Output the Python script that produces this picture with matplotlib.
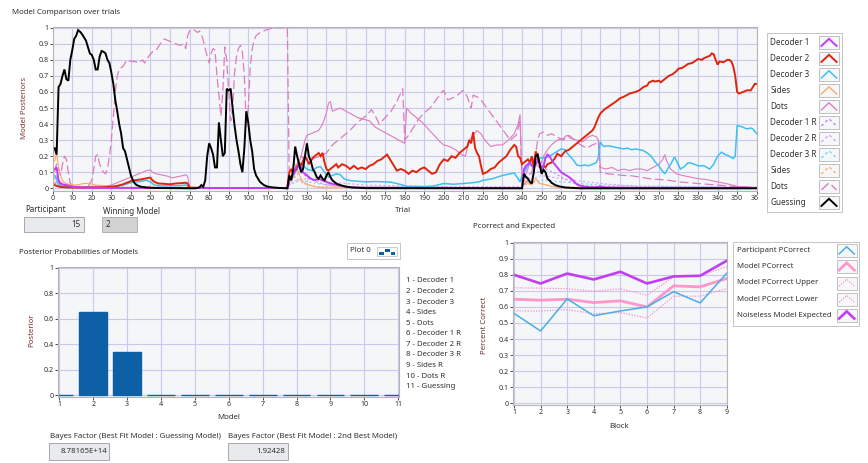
import matplotlib.pyplot as plt
from matplotlib.patches import Rectangle
from matplotlib.transforms import Bbox, TransformedBbox

plt.rcParams['font.family'] = ['Noto Sans', 'DejaVu Sans']

W, H = 868, 463

# ---------------- posterior traces over trials ----------------
guess_t = [1, 2, 3, 4, 5, 6, 7, 8, 9, 10, 11, 12, 13, 14, 15, 16, 17, 18, 19, 20,
           21, 22, 23, 24, 25, 26, 27, 28, 29, 30, 31, 32, 33, 34, 35, 36, 37, 38, 39, 40,
           41, 42, 43, 45, 48, 52, 60, 70, 73, 75, 76, 77, 78, 79, 80, 81, 82, 83, 84, 85,
           86, 87, 88, 89, 90, 91, 92, 93, 94, 95, 96, 97, 98, 99, 100, 101, 102, 103, 104,
           106, 108, 110, 113, 116, 120,
           121, 122, 123, 124, 125, 126, 127, 128, 129, 130, 131, 132, 133, 134, 135, 136,
           137, 138, 139, 140, 141, 142, 143, 145, 147, 150, 153, 160, 240,
           241, 242, 243, 244, 245, 246, 247, 248, 249, 250, 251, 252, 253, 254, 255, 257,
           259, 262, 266, 270, 360]
guess_v = [.25, .21, .63, .65, .70, .74, .68, .67, .80, .86, .93, .95, .985, .975, .96, .94, .92, .88, .84, .83,
           .80, .74, .74, .82, .855, .85, .84, .80, .78, .72, .65, .55, .48, .40, .34, .25, .23, .18, .13, .08,
           .05, .03, .02, .01, .005, .002, .001, 0, 0, .005, .02, .01, .05, .20, .28, .25, .21, .13, .13, .41,
           .30, .20, .22, .62, .61, .62, .50, .39, .30, .23, .15, .10, .25, .48, .41, .30, .23, .12, .08,
           .04, .02, .01, .005, .002, 0,
           .08, .05, .12, .26, .20, .15, .10, .12, .20, .28, .20, .17, .12, .10, .07, .06,
           .08, .06, .05, .08, .10, .07, .05, .03, .02, .01, .005, .001, 0,
           .09, .07, .06, .04, .03, .10, .20, .21, .15, .09, .115, .10, .06, .05, .035, .02,
           .012, .005, .002, 0, 0]

dec2_t = [1, 2, 4, 8, 15, 25, 30, 33, 36, 38, 40, 42, 45, 47, 49, 50, 51, 52, 54, 57,
          60, 63, 66, 68, 69, 70, 80, 100, 120,
          121, 122, 123, 124, 125, 126, 127, 128, 129, 130, 131, 132, 133, 134, 135, 136,
          137, 138, 139, 140, 141, 143, 145, 146, 148, 150, 152, 154, 156, 158, 160, 162,
          164, 166, 168, 170, 171, 172, 174, 176, 178, 180, 182, 184, 186, 188, 190, 192,
          194, 196, 198, 200, 202, 204, 206, 208, 210, 212, 213, 214, 215, 216, 217, 218,
          219, 220, 222, 224, 226, 228, 230, 232, 234, 236, 237, 238, 239, 240,
          241, 242, 243, 244, 245, 246, 247, 248, 249, 250, 251, 252, 253, 255, 257, 258,
          260, 262, 264, 266, 268, 270, 272, 274, 276, 277, 278, 279, 280, 282, 285, 288,
          290, 292, 295, 298, 300, 302, 304, 305, 307, 308, 310, 311, 313, 315, 317, 319,
          320, 322, 325, 327, 330, 332, 333, 335, 336, 337, 338, 339, 340, 341, 343, 345,
          346, 347, 348, 349, 350, 351, 353, 355, 357, 359, 360]
dec2_v = [.02, .015, .008, .005, .004, .006, .01, .015, .025, .035, .045, .05, .055, .06, .065, .066, .05, .04, .03, .028,
          .025, .03, .032, .035, .03, .004, .002, .002, .002,
          .10, .12, .09, .11, .13, .16, .14, .17, .20, .18, .15, .17, .19, .20, .21, .22,
          .20, .22, .16, .12, .11, .13, .15, .13, .15, .14, .12, .14, .12, .13, .12, .14,
          .15, .17, .18, .20, .21, .19, .15, .11, .12, .11, .09, .11, .10, .12, .13, .11,
          .09, .10, .15, .18, .17, .20, .19, .22, .24, .26, .30, .28, .35, .25, .22, .20,
          .14, .09, .10, .12, .13, .16, .18, .20, .24, .27, .26, .20, .19, .15,
          .16, .17, .18, .16, .20, .13, .23, .20, .15, .12, .14, .13, .15, .16, .19, .215,
          .20, .23, .24, .26, .28, .30, .32, .34, .36, .38, .41, .44, .465, .49, .515, .54,
          .56, .57, .59, .60, .61, .63, .64, .66, .67, .665, .67, .66, .68, .70, .71, .73,
          .745, .75, .775, .78, .805, .80, .81, .82, .825, .84, .835, .80, .77, .79, .785, .80,
          .80, .79, .76, .70, .60, .59, .60, .61, .61, .65, .65]

dec3_t = [1, 2, 3, 5, 10, 20, 30, 33, 36, 40, 43, 46, 48, 50, 52, 55, 60, 65, 68, 69, 70, 120,
          121, 122, 123, 124, 125, 126, 127, 128, 129, 130, 131, 133, 135, 137, 139, 141,
          143, 145, 147, 149, 151, 155, 160, 165, 170, 173, 176, 179, 181, 185, 190, 195,
          200, 205, 210, 215, 218, 220, 225, 230, 234, 236, 238, 239,
          240, 241, 243, 244, 246, 248, 250, 252, 254, 256, 258, 260, 262, 263, 264, 266,
          268, 270, 272, 274, 276, 278, 279, 280, 281, 282, 284, 286, 288, 290, 292, 294,
          296, 298, 300, 302, 304, 306, 308, 310, 311, 313, 314, 316, 318, 319, 321, 323,
          325, 327, 330, 333, 336, 338, 340, 342, 344, 346, 348, 349, 350, 352, 355, 357,
          358, 360]
dec3_v = [.08, .06, .02, .01, .005, .004, .006, .012, .02, .035, .04, .045, .05, .04, .02, .015, .015, .016, .02, .015, .002, .002,
          .05, .06, .08, .10, .12, .14, .155, .15, .13, .12, .115, .11, .13, .135, .10, .07,
          .08, .09, .085, .06, .05, .045, .04, .042, .04, .038, .03, .02, .012, .012, .01, .015,
          .03, .025, .03, .035, .04, .05, .06, .08, .09, .095, .06, .04,
          .08, .10, .14, .16, .17, .18, .19, .19, .20, .215, .23, .245, .24, .22, .205, .18,
          .145, .14, .145, .14, .15, .16, .19, .29, .27, .26, .265, .26, .255, .25, .245, .25,
          .24, .245, .24, .235, .22, .20, .165, .14, .12, .09, .11, .15, .195, .17, .12, .135,
          .16, .155, .14, .14, .12, .15, .20, .225, .21, .20, .185, .20, .39, .385, .37, .375,
          .37, .34]

dec1_t = [1, 2, 3, 4, 5, 7, 10, 15, 20, 30, 120,
          121, 122, 123, 124, 125, 126, 127, 128, 129, 130, 131, 132, 134, 136, 138, 140,
          142, 144, 146, 148, 150, 153, 158, 240,
          241, 242, 243, 244, 245, 246, 247, 248, 249, 250, 251, 252, 253, 254, 255, 256,
          258, 260, 262, 264, 266, 268, 270, 273, 278, 280, 282, 290, 300, 360]
dec1_v = [.12, .13, .05, .03, .025, .02, .01, .005, .003, .002, .002,
          .05, .07, .09, .12, .14, .145, .13, .10, .09, .08, .07, .06, .05, .06, .05, .04,
          .03, .025, .02, .015, .01, .006, .003, .002,
          .12, .14, .15, .16, .14, .13, .15, .17, .16, .12, .14, .19, .21, .20, .18, .16,
          .13, .10, .085, .07, .05, .025, .015, .008, .006, .012, .006, .004, .003, .003]

sides_t = [1, 2, 3, 4, 5, 6, 8, 10, 13, 16, 19, 22, 25, 28, 32, 36, 40, 120,
           121, 122, 123, 124, 125, 126, 127, 128, 130, 133, 136, 140, 240,
           241, 242, 243, 244, 245, 246, 247, 248, 249, 251, 253, 255, 258, 262, 360]
sides_v = [.17, .22, .13, .08, .05, .035, .025, .02, .022, .03, .03, .02, .018, .012, .008, .004, .002, .001,
           .10, .12, .14, .15, .12, .09, .06, .04, .025, .012, .006, .003, .001,
           .05, .04, .03, .025, .02, .04, .06, .045, .03, .025, .02, .012, .006, .003, .001]

dots_t = [1, 2, 3, 5, 8, 12, 16, 20, 25, 28, 30, 32, 34, 36, 38, 40, 42, 44, 46, 48,
          50, 51, 53, 55, 57, 59, 61, 63, 65, 67, 68, 69, 70, 120,
          121, 123, 125, 127, 129, 130, 132, 134, 136, 138, 140, 141, 142, 143, 145, 147,
          150, 153, 156, 159, 162, 165, 168, 171, 174, 177, 180, 181, 183, 186, 189, 192,
          195, 198, 200, 203, 206, 209, 211, 213, 215, 217, 219, 221, 224, 227, 230, 233,
          236, 238, 239, 240,
          241, 243, 245, 247, 249, 251, 253, 255, 258, 261, 263, 265, 268, 271, 274, 276,
          278, 279, 280, 283, 286, 289, 292, 295, 298, 301, 304, 307, 310, 312, 313, 314,
          316, 319, 322, 326, 330, 334, 338, 342, 346, 350, 355, 360]
dots_v = [.03, .04, .03, .02, .01, .008, .01, .012, .012, .015, .02, .03, .04, .05, .06, .07, .08, .09, .10, .11,
          .115, .10, .09, .085, .08, .075, .065, .07, .075, .08, .085, .075, .005, .001,
          .04, .08, .12, .20, .30, .33, .34, .35, .36, .40, .47, .53, .54, .48, .49, .50,
          .48, .46, .44, .43, .42, .38, .36, .34, .32, .30, .28, .50, .47, .44, .41, .37,
          .33, .29, .27, .26, .24, .21, .20, .30, .33, .36, .34, .30, .26, .27, .27, .30,
          .34, .40, .46, .04,
          .06, .12, .20, .15, .13, .20, .24, .27, .30, .31, .33, .31, .30, .29, .32, .33,
          .32, .30, .13, .12, .13, .11, .12, .11, .12, .12, .11, .13, .15, .18, .21, .17,
          .12, .09, .08, .07, .06, .055, .045, .035, .025, .012, .006, .004]

dotsr_t = [1, 2, 3, 4, 5, 6, 7, 8, 9, 10, 12, 15, 18, 20, 21, 22, 23, 24, 25, 26,
           27, 28, 29, 30, 31, 32, 33, 34, 36, 38, 40, 42, 44, 46, 47, 49, 51, 53, 55, 57,
           59, 61, 63, 65, 67, 68, 69, 70, 72, 74, 75, 76, 77, 78, 79, 80, 81, 82, 83, 84,
           85, 86, 87, 88, 89, 90, 91, 92, 93, 94, 95, 96, 97, 98, 99, 100, 101, 102, 103, 104,
           106, 108, 110, 113, 120,
           121, 123, 125, 127, 129, 131, 134, 137, 140, 143, 146, 149, 152, 155, 158, 161,
           163, 165, 167, 170, 173, 176, 179, 180, 182, 184, 187, 190, 193, 196, 199, 200,
           202, 204, 207, 210, 212, 214, 215, 217, 219, 222, 225, 228, 231, 234, 237, 239, 240,
           241, 243, 245, 247, 248, 249, 251, 253, 255, 258, 261, 264, 267, 270, 273, 276,
           278, 279, 280, 284, 288, 292, 296, 300, 305, 310, 315, 320, 325, 330, 335, 340,
           345, 350, 360]
dotsr_v = [.10, .15, .12, .08, .15, .20, .18, .10, .03, .02, .01, .005, .01, .05, .12, .20, .21, .15, .12, .10,
           .09, .12, .20, .30, .45, .60, .70, .74, .76, .80, .79, .79, .78, .80, .78, .82, .85, .86, .90, .93,
           .92, .91, .90, .89, .90, .87, .95, .98, .99, .97, .98, .96, .92, .87, .82, .78, .84, .87, .86, .70,
           .58, .45, .60, .88, .80, .60, .42, .50, .72, .82, .87, .89, .85, .70, .39, .50, .75, .87, .92, .95,
           .97, .98, .99, 1.0, 1.0,
           .02, .08, .15, .20, .18, .17, .19, .20, .22, .27, .30, .33, .36, .40, .43, .46,
           .49, .45, .40, .44, .48, .54, .62, .30, .33, .37, .43, .47, .50, .55, .60, .61,
           .55, .56, .58, .61, .57, .50, .58, .57, .55, .50, .45, .40, .35, .30, .33, .42, .03,
           .02, .05, .10, .22, .30, .34, .35, .33, .34, .32, .30, .33, .30, .27, .25, .27,
           .28, .30, .10, .09, .085, .08, .078, .07, .06, .055, .05, .04, .035, .03, .025, .02,
           .015, .01, .005]

dec1r_t = [1, 2, 3, 5, 10, 20, 120, 121, 124, 127, 130, 135, 140, 150, 240,
           241, 244, 248, 252, 256, 260, 265, 270, 280, 300, 360]
dec1r_v = [.06, .08, .04, .02, .01, .005, .002, .04, .08, .10, .07, .04, .02, .008, .002,
           .05, .09, .10, .12, .10, .07, .04, .02, .008, .004, .002]

dec2r_t = [1, 3, 10, 30, 50, 70, 120, 121, 125, 130, 140, 160, 200, 240,
           241, 250, 260, 280, 300, 360]
dec2r_v = [.03, .02, .005, .004, .01, .002, .002, .03, .05, .06, .04, .02, .01, .01,
           .04, .08, .06, .03, .01, .005]

dec3r_t = [1, 5, 120, 121, 127, 135, 150, 240, 241, 250, 260, 280, 360]
dec3r_v = [.02, .005, .001, .02, .05, .03, .01, .002, .03, .05, .04, .02, .003]

sidesr_t = [1, 2, 3, 6, 15, 120, 121, 124, 128, 135, 240, 241, 247, 255, 360]
sidesr_v = [.05, .08, .05, .02, .01, .001, .04, .07, .03, .01, .001, .02, .04, .01, .001]

# ---------------- posterior of each model ----------------
model_ids = [1, 2, 3, 4, 5, 6, 7, 8, 9, 10, 11]
model_names = ['Decoder 1', 'Decoder 2', 'Decoder 3', 'Sides', 'Dots', 'Decoder 1 R',
               'Decoder 2 R', 'Decoder 3 R', 'Sides R', 'Dots R', 'Guessing']
posterior = [0.0008, 0.6509, 0.3383, 0.0006, 0.004, 0.0004, 0.0004, 0.0004, 0.0004, 0.004, 0.0]
bf_guess = '8.78165E+14'
bf_second = '1.92428'
participant = '15'
winning_model = '2'

# ---------------- percent correct per block ----------------
blocks = [1, 2, 3, 4, 5, 6, 7, 8, 9]
participant_pc = [0.56, 0.45, 0.65, 0.545, 0.575, 0.60, 0.695, 0.625, 0.81]
model_pc = [0.648, 0.642, 0.648, 0.627, 0.638, 0.600, 0.731, 0.725, 0.777]
model_upper = [0.719, 0.717, 0.713, 0.698, 0.713, 0.673, 0.788, 0.794, 0.850]
model_lower = [0.575, 0.575, 0.583, 0.558, 0.565, 0.531, 0.667, 0.667, 0.715]
noiseless = [0.800, 0.746, 0.808, 0.771, 0.819, 0.746, 0.790, 0.794, 0.888]

BG = '#f4f6f8'
GRID = '#cbc8ee'
YLAB = '#7a3434'
TXT = '#303030'


def px_rect(x0, y0, x1, y1):
    return [x0 / W, 1 - y1 / H, (x1 - x0) / W, (y1 - y0) / H]


def style_axes(ax):
    ax.set_facecolor(BG)
    ax.grid(True, color=GRID, lw=0.8)
    ax.set_axisbelow(True)
    for s in ax.spines.values():
        s.set_color('#b5b5b5')
        s.set_linewidth(0.8)
    ax.tick_params(labelsize=5.1, length=2.2, width=0.6, pad=1, colors=TXT)


fig = plt.figure(figsize=(W / 100, H / 100), dpi=100)
fig.patch.set_facecolor('white')

# ---- model posteriors over trials ----
ax = fig.add_axes(px_rect(52.7, 26.5, 756.7, 190.5))
style_axes(ax)
ax.set_xlim(0, 360)
ax.set_ylim(-0.0137, 1.0075)
ax.set_xticks(range(0, 361, 10))
ax.set_yticks([i / 10 for i in range(11)])
ax.set_yticklabels(['0'] + ['0.%d' % i for i in range(1, 10)] + ['1'])

series = [
    (dec2r_t, dec2r_v, '#d8a0f8', 0.8, (0, (2, 2))),
    (dec1r_t, dec1r_v, '#cf80f6', 0.8, (0, (2, 2))),
    (dec3r_t, dec3r_v, '#80d4f8', 0.8, (0, (2, 2))),
    (sidesr_t, sidesr_v, '#ffae70', 0.8, (0, (2, 2))),
    (dotsr_t, dotsr_v, '#de7cc0', 0.9, (0, (7, 3))),
    (dots_t, dots_v, '#de7cc0', 0.8, '-'),
    (sides_t, sides_v, '#ffa868', 0.8, '-'),
    (dec3_t, dec3_v, '#3ec0f4', 1.1, '-'),
    (dec2_t, dec2_v, '#e0240e', 1.4, '-'),
    (dec1_t, dec1_v, '#c43cf5', 1.4, '-'),
    (guess_t, guess_v, '#000000', 1.4, '-'),
]
for t, v, c, lw, ls in series:
    ax.plot(t, v, color=c, lw=lw, linestyle=ls, solid_joinstyle='miter')

fig.canvas.draw()
lbl = ax.xaxis.get_major_ticks()[-1].label1
lbl.set_clip_box(TransformedBbox(Bbox.from_extents(0, 0, 758 / W, 1), fig.transFigure))
lbl.set_clip_on(True)

# ---- posterior probabilities (bars) ----
ax2 = fig.add_axes(px_rect(58.3, 266.7, 399.3, 396.7))
style_axes(ax2)
ax2.bar(model_ids, posterior, width=0.82, color='#0d5fa6', edgecolor='#0d5fa6', lw=1.0)
ax2.set_xlim(0.97, 11.03)
ax2.set_ylim(-0.011, 1.008)
ax2.set_xticks(model_ids)
ax2.set_yticks([0, 0.2, 0.4, 0.6, 0.8, 1])
ax2.set_yticklabels(['0', '0.2', '0.4', '0.6', '0.8', '1'])

# ---- percent correct ----
ax3 = fig.add_axes(px_rect(513.3, 241.7, 727.3, 405))
style_axes(ax3)
ax3.plot(blocks, model_upper, color='#ff8cc8', lw=0.9, linestyle=(0, (1, 1.2)))
ax3.plot(blocks, model_lower, color='#ff8cc8', lw=0.9, linestyle=(0, (1, 1.2)))
ax3.plot(blocks, model_pc, color='#ff96cc', lw=2.0)
ax3.plot(blocks, participant_pc, color='#4aaee6', lw=1.1)
ax3.plot(blocks, noiseless, color='#c23ef6', lw=1.9)
ax3.set_xlim(0.974, 9.02)
ax3.set_ylim(-0.0106, 1.0062)
ax3.set_xticks(blocks)
ax3.set_yticks([i / 10 for i in range(11)])
ax3.set_yticklabels(['0'] + ['0.%d' % i for i in range(1, 10)] + ['1'])

# ---- panel text, indicators and legends ----
ov = fig.add_axes([0, 0, 1, 1], facecolor='none')
ov.set_xlim(0, W)
ov.set_ylim(H, 0)
ov.axis('off')


def label(x, y, s, size=5.7, color=TXT, **kw):
    ov.text(x, y, s, fontsize=size, color=color, va='center', **kw)


def box(x0, y0, x1, y1, fc='#e8eaed', ec='#a8a8a8'):
    ov.add_patch(Rectangle((x0, y0), x1 - x0, y1 - y0, fc=fc, ec=ec, lw=0.7))


def swatch(x0, y0, w, h, color, lw, ls):
    ov.add_patch(Rectangle((x0, y0), w, h, fc='#f6f7f8', ec='#b8b8b8', lw=0.6))
    ov.plot([x0 + 0.12 * w, x0 + 0.5 * w, x0 + 0.88 * w],
            [y0 + 0.75 * h, y0 + 0.2 * h, y0 + 0.75 * h],
            color=color, lw=lw, linestyle=ls, solid_joinstyle='miter')


label(11.7, 12, 'Model Comparison over trials')
label(24.5, 108, 'Model Posteriors', color=YLAB, rotation=90, ha='center')
label(403, 211, 'Trial', ha='center')
label(25, 210, 'Participant', size=5.8)
box(24, 217, 84, 232)
label(81, 224.5, participant, size=5.8, ha='right')
label(102.7, 211, 'Winning Model', size=5.8)
box(102, 217, 137, 232, fc='#d2d2d2', ec='#b0b0b0')
label(106, 224.5, winning_model, size=5.8)

# legend of the posterior traces
box(767.3, 32.7, 842.3, 212.3, fc='white', ec='#c4c4c4')
legend_styles = [series[9], series[8], series[7], series[6], series[5],
                 series[1], series[0], series[2], series[3], series[4], series[10]]
leg_names = ['Decoder 1', 'Decoder 2', 'Decoder 3', 'Sides', 'Dots', 'Decoder 1 R',
             'Decoder 2 R', 'Decoder 3 R', 'Sides', 'Dots', 'Guessing']
for i, (name, st) in enumerate(zip(leg_names, legend_styles)):
    yc = 42.7 + 16.0 * i
    label(770.5, yc, name, size=5.85)
    swatch(819, yc - 6.5, 20, 13, st[2], max(st[3], 1.0), st[4])

# bar chart texts
label(19, 252.3, 'Posterior Probabilities of Models')
label(31.5, 330, 'Posterior', color=YLAB, rotation=90, ha='center')
label(228.7, 417.7, 'Model', ha='center')
box(347, 243, 400, 259, fc='white', ec='#c4c4c4')
label(350, 251, 'Plot 0', size=5.6)
ov.add_patch(Rectangle((377, 247), 20, 9, fc='white', ec='#b8b8b8', lw=0.5))
ov.add_patch(Rectangle((379, 251.5), 4.5, 3.5, fc='#0d5fa6', lw=0))
ov.add_patch(Rectangle((384.5, 248.8), 5, 3.3, fc='#0d5fa6', lw=0))
ov.add_patch(Rectangle((390.5, 251.5), 4.5, 3.5, fc='#0d5fa6', lw=0))
for i, name in enumerate(model_names):
    label(405.7, 281 + 10.57 * i, '%d - %s' % (model_ids[i], name), size=5.6)

label(50, 436.7, 'Bayes Factor (Best Fit Model : Guessing Model)', size=5.7)
box(49.3, 443.3, 109.3, 460)
label(107, 451.7, bf_guess, size=5.6, ha='right')
label(228.3, 436.7, 'Bayes Factor (Best Fit Model : 2nd Best Model)', size=5.7)
box(228.3, 443.3, 288.3, 460)
label(285.5, 451.7, bf_second, size=5.6, ha='right')

# percent correct texts
label(472.7, 226.7, 'Pcorrect and Expected')
label(485, 325, 'Percent Correct', color=YLAB, rotation=90, ha='center')
label(619, 426.7, 'Block', ha='center')
box(732.7, 242.3, 859.3, 325.7, fc='white', ec='#c4c4c4')
pc_legend = [('Participant PCorrect', '#4aaee6', 1.1, '-'),
             ('Model PCorrect', '#ff96cc', 2.0, '-'),
             ('Model PCorrect Upper', '#ff8cc8', 0.9, (0, (1, 1.2))),
             ('Model PCorrect Lower', '#ff8cc8', 0.9, (0, (1, 1.2))),
             ('Noiseless Model Expected', '#c23ef6', 1.9, '-')]
for i, (name, c, lw, ls) in enumerate(pc_legend):
    yc = 250.7 + 16.15 * i
    label(736.7, yc, name, size=5.6)
    swatch(836.7, yc - 6.5, 20, 13, c, lw, ls)

fig.savefig('out.png', dpi=100)
